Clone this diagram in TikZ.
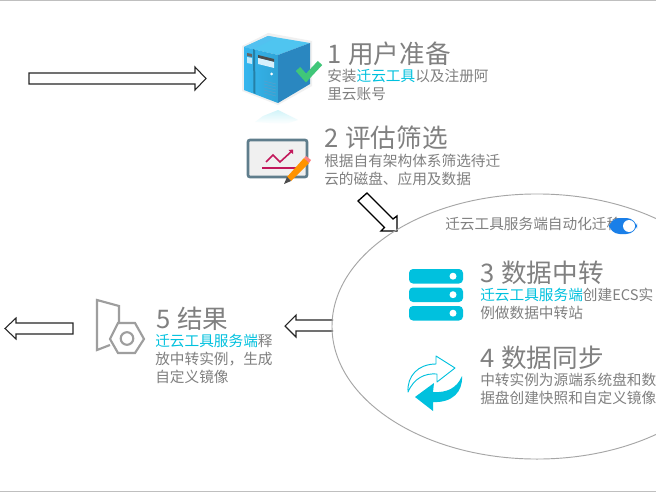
\documentclass[tikz,border=0pt]{standalone}
\usepackage{fontspec}
\setmainfont{Noto Sans CJK SC}
\usetikzlibrary{shapes.geometric}
\definecolor{txt}{HTML}{808080}
\definecolor{cy}{HTML}{00C1DE}
\definecolor{tog}{HTML}{1A7FE8}
\definecolor{board}{HTML}{5F7D8C}
\definecolor{mag}{HTML}{C2185B}
\definecolor{frontf}{HTML}{35B6EE}
\definecolor{sidef}{HTML}{2A87C0}
\definecolor{topf}{HTML}{4FC5F0}
\tikzset{
  titletext/.style={anchor=base west,inner sep=0pt,text=txt,font=\fontsize{19.2pt}{20pt}\selectfont},
  bodytext/.style={anchor=base west,inner sep=0pt,text=txt,font=\fontsize{11pt}{13pt}\selectfont},
  blockarrow/.style={draw=black!85,line width=0.8pt,fill=white},
  iconline/.style={draw=black!38,line width=1.6pt,line join=miter},
}
\newcommand{\cyt}[1]{\textcolor{cy}{#1}}
\newcommand{\numgap}{\hspace{0.8pt}}
\begin{document}
\begin{tikzpicture}[x=0.75pt,y=-0.75pt]
\useasboundingbox (0,0) rectangle (656,492);
\fill[white] (0,0) rectangle (656,492);
\draw[black!25,line width=0.75pt] (0,0.5) -- (656,0.5);
\draw[black!25,line width=0.75pt] (0,491) -- (656,491);
% block arrows
\draw[blockarrow] (29,73) -- (195,73) -- (195,67) -- (206,78.5) -- (195,90) -- (195,84) -- (29,84) -- cycle;
\draw[blockarrow] (73,323) -- (16,323) -- (16,318) -- (5,328.5) -- (16,339) -- (16,334) -- (73,334) -- cycle;
\draw[blockarrow] (333,320) -- (296,320) -- (296,315) -- (285,326) -- (296,337) -- (296,331) -- (333,331);
\draw[blockarrow,line width=1pt,draw=black] (358,201) -- (367,193) -- (393,219) -- (397,216) -- (397,231) -- (381,231) -- (384.5,227.5) -- cycle;
% ellipse
\clip (0,0) rectangle (656,492);
\node[ellipse,draw=black!35,line width=0.7pt,minimum width=307.5pt,minimum height=198.8pt,inner sep=0pt] (zone) at (537,326.5) {};
% server icon
\shade[top color=cy!18,bottom color=white] (255,122) -- (263,116) -- (278,110) -- (298,120) -- (285,124) -- cycle;
\fill[black!6] (242,46) -- (268,33) -- (312,41) -- (312,86) -- (278,105) -- (242,91) -- cycle;
\fill[topf] (244,47) -- (268,36) -- (310,43) -- (278,55) -- cycle;
\fill[frontf!85!white] (244,47) -- (268,36) -- (276,37.5) -- (253,49) -- cycle;
\shade[left color=frontf,right color=frontf!90!black] (244,47) -- (278,55) -- (278,103) -- (244,90) -- cycle;
\fill[sidef] (278,55) -- (310,43) -- (310,84) -- (278,103) -- cycle;
\fill[frontf!70!black] (253,49) -- (253.5,93) -- (255.5,94) -- (255,50) -- cycle;
\fill[black!70] (258,55) -- (274,59) -- (274,62) -- (258,58) -- cycle;
\fill[white!80!frontf] (258,58) -- (274,62) -- (274,68) -- (258,64) -- cycle;
\fill[black!60] (247,53) -- (252,54) -- (252,57) -- (247,56) -- cycle;
\fill[white!70!frontf] (247,57) -- (252,58) -- (252,64) -- (247,63) -- cycle;
\fill[white] (271.5,74) circle (1.5);
\foreach \yy in {81,84,87,90,93}{\draw[sidef!80,line width=0.5pt] (264,\yy) -- (276,\yy+3);}
\draw[teal!60!green!75!white,line width=4.5pt] (298,69) -- (306,78) -- (320,63);
% chart icon
\draw[board,fill=black!6,line width=2pt,rounded corners=1.5pt] (248,140) rectangle (307,177);
\draw[mag,line width=1.2pt] (262,168) -- (297,168);
\draw[mag,line width=1.2pt] (266,162) -- (273,155) -- (280,162) -- (292,151);
\fill[mag] (293,149.5) -- (293,154) -- (288.5,150) -- cycle;
\fill[orange!85!yellow] (287,177) -- (304,158) -- (309,163) -- (291,181) -- cycle;
\fill[black!70] (284,184) -- (287,177) -- (291,181) -- cycle;
\fill[red!50!white] (304,158) -- (306,156) -- (311,160) -- (309,163) -- cycle;
% stack icon
\foreach \yy/\nm in {269/a,287.5/b,306/c}{
  \fill[cy,rounded corners=3pt] (409,\yy) rectangle (463,\yy+14.5);
  \fill[white] (453,\yy+7.2) circle (3.5);
}
% sync icon
\draw[cy,line width=0.7pt,fill=white,line join=round] (408,392) .. controls (407,376) and (418,364) .. (436,364) -- (436,356) -- (455,368) -- (437,382) -- (437,374) .. controls (425,373) and (414,378) .. (408,392) -- cycle;
\fill[cy] (415,397) -- (434,383) -- (433,392) .. controls (447,393) and (457,388) .. (462,376) .. controls (463,392) and (452,403) .. (433,402) -- (433,411) -- cycle;
% hex icon
\draw[iconline] (119,323) -- (119,306) -- (97,300) -- (97,350) -- (110,345);
\draw[iconline] (144,339) -- (135,323) -- (118,323) -- (110,339) -- (118,353) -- (135,353) -- cycle;
\draw[iconline] (127,338.5) circle (6.3);
% toggle text first, then toggle over it
\node[bodytext] (auto) at (445,229) {迁云工具服务端自动化迁移};
\fill[tog,rounded corners=8pt] (609,218) rectangle (637,234);
\fill[white] (629,226) circle (6);
% step texts
\node[titletext] (t1) at (327,64) {1\numgap{} 用户准备};
\node[bodytext] (b1a) at (327,81) {安装\cyt{迁云工具}以及注册阿};
\node[bodytext] (b1b) at (327,99) {里云账号};
\node[titletext] (t2) at (324,147) {2\numgap{} 评估筛选};
\node[bodytext] (b2a) at (324,166) {根据自有架构体系筛选待迁};
\node[bodytext] (b2b) at (324,184) {云的磁盘、应用及数据};
\node[titletext] (t3) at (480,282) {3\numgap{} 数据中转};
\node[bodytext] (b3a) at (480,300) {\cyt{迁云工具服务端}创建ECS实};
\node[bodytext] (b3b) at (480,318) {例做数据中转站};
\node[titletext] (t4) at (480,367) {4\numgap{} 数据同步};
\node[bodytext] (b4a) at (480,385) {中转实例为源端系统盘和数};
\node[bodytext] (b4b) at (480,403) {据盘创建快照和自定义镜像};
\node[titletext] (t5) at (156,328) {5\numgap{} 结果};
\node[bodytext] (b5a) at (155,346) {\cyt{迁云工具服务端}释};
\node[bodytext] (b5b) at (155,364) {放中转实例，生成};
\node[bodytext] (b5c) at (155,382) {自定义镜像};
\end{tikzpicture}
\end{document}
